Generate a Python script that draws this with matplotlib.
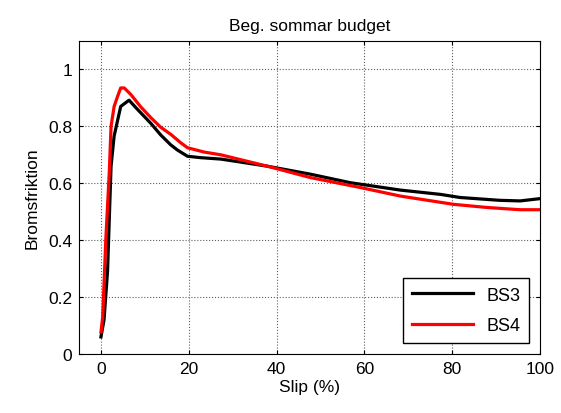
import numpy as np
import matplotlib.pyplot as plt

# Data
slip_bs3 = [0, 0.7, 1.5, 2.3, 3.0, 4.5, 6.4, 8.3, 11.4, 13.6, 15.9, 17.4, 19.7,
            22.7, 27.3, 30.3, 37.9, 47.7, 56.8, 68.2, 77.3, 81.8, 90.9, 95.5, 100]
fr_bs3 = [0.06, 0.12, 0.29, 0.66, 0.766, 0.87, 0.892, 0.86, 0.81, 0.77, 0.735, 0.717, 0.695,
          0.69, 0.685, 0.678, 0.66, 0.632, 0.602, 0.576, 0.561, 0.55, 0.54, 0.538, 0.546]

slip_bs4 = [0, 0.4, 1.1, 1.9, 2.3, 3.0, 3.8, 4.5, 5.3, 6.8, 9.1, 11.4, 13.6, 15.9, 18.2,
            19.7, 23.4, 27.3, 37.9, 47.7, 59.1, 68.2, 80.3, 87.9, 95.5, 100]
fr_bs4 = [0.077, 0.13, 0.40, 0.64, 0.80, 0.87, 0.906, 0.935, 0.935, 0.912, 0.868, 0.83,
          0.797, 0.772, 0.742, 0.725, 0.71, 0.70, 0.66, 0.62, 0.585, 0.555, 0.526, 0.515,
          0.507, 0.507]

plt.rcParams['font.family'] = ['Liberation Sans', 'DejaVu Sans']

fig = plt.figure(figsize=(5.61, 4.14), dpi=100)
ax = fig.add_axes([79 / 561, 1 - 355 / 414, (540 - 79) / 561, (355 - 42) / 414])

ax.plot(slip_bs3, fr_bs3, color='black', lw=2.3, label='BS3')
ax.plot(slip_bs4, fr_bs4, color='red', lw=2.3, label='BS4')

ax.set_xlim(-5, 100)
ax.set_ylim(0, 1.1)
ax.set_xticks([0, 20, 40, 60, 80, 100])
ax.set_yticks([0, 0.2, 0.4, 0.6, 0.8, 1])
ax.set_yticklabels(['0', '0.2', '0.4', '0.6', '0.8', '1'])
ax.tick_params(direction='in', top=True, right=True, labelsize=12.5, length=3, pad=5)
ax.grid(True, color='#606060', linestyle=':', linewidth=0.8)

ax.set_title('Beg. sommar budget', fontsize=12.5, pad=8)
ax.set_xlabel('Slip (%)', fontsize=12.5, labelpad=2)
ax.set_ylabel('Bromsfriktion', fontsize=12.5, labelpad=6)

leg = ax.legend(loc='lower right', fontsize=13, fancybox=False, edgecolor='black',
                framealpha=1, handlelength=3.4, borderaxespad=0.6, handletextpad=0.7,
                labelspacing=0.75, borderpad=0.5)
leg.get_frame().set_linewidth(1)

fig.savefig('out.png', dpi=100)
